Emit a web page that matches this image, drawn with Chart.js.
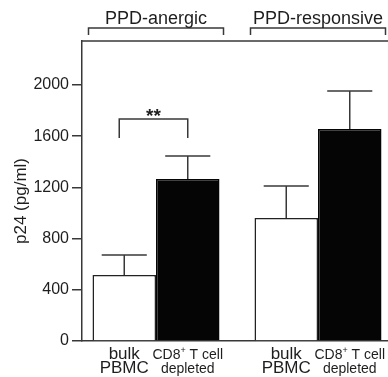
<!DOCTYPE html>
<html>
<head>
<meta charset="utf-8">
<script src="https://cdn.jsdelivr.net/npm/chart.js@4/dist/chart.umd.min.js"></script>
<style>
  html, body { margin: 0; padding: 0; background: #fff; }
  #wrap { width: 388px; height: 377px; }
</style>
</head>
<body>
<div id="wrap"><canvas id="myChart" width="388" height="377"></canvas></div>
<script>
// values
const groups = ['PPD-anergic', 'PPD-responsive'];
const condLines = [['bulk', 'PBMC'], ['CD8+ T cell', 'depleted']];
const bulkPBMC = [516, 961];
const bulkSEM = [156, 250];
const cd8Depleted = [1266, 1656];
const cd8SEM = [179, 297];
const yTicks = [0, 400, 800, 1200, 1600, 2000];
const yMax = 2344;
const sigLabel = '**';
const sigLevel = 1734; // top of significance bracket
const sigFoot = 1586;  // ends of significance bracket

const FONT = '"Liberation Sans", Arial, sans-serif';
const INK = '#1e1e1e';
const LINE = '#383838';

function line(ctx, x1, y1, x2, y2) {
  ctx.beginPath();
  ctx.moveTo(x1, y1);
  ctx.lineTo(x2, y2);
  ctx.stroke();
}

function drawSup(ctx, text, cx, by, size) {
  if (!text.includes('+')) {
    ctx.font = size + 'px ' + FONT;
    ctx.textAlign = 'center';
    ctx.fillText(text, cx, by);
    return;
  }
  const parts = text.split('+');
  const sup = Math.round(size * 0.65);
  ctx.textAlign = 'left';
  ctx.font = size + 'px ' + FONT;
  const w1 = ctx.measureText(parts[0]).width;
  const w3 = ctx.measureText(parts[1]).width;
  ctx.font = sup + 'px ' + FONT;
  const w2 = ctx.measureText('+').width;
  let x = cx - (w1 + w2 + w3) / 2;
  ctx.font = size + 'px ' + FONT;
  ctx.fillText(parts[0], x, by);
  ctx.font = sup + 'px ' + FONT;
  ctx.fillText('+', x + w1, by - size * 0.4);
  ctx.font = size + 'px ' + FONT;
  ctx.fillText(parts[1], x + w1 + w2, by);
}

const extras = {
  id: 'extras',
  afterDatasetsDraw(chart) {
    const ctx = chart.ctx;
    const y = chart.scales.y;
    const area = chart.chartArea;
    const m0 = chart.getDatasetMeta(0);
    const m1 = chart.getDatasetMeta(1);
    ctx.save();
    ctx.strokeStyle = LINE;
    ctx.fillStyle = INK;
    ctx.lineWidth = 1.5;

    // frame line on top
    line(ctx, area.left, area.top, area.right, area.top);

    // error bars (upper only)
    [[m0, bulkPBMC, bulkSEM], [m1, cd8Depleted, cd8SEM]].forEach(([meta, vals, errs]) => {
      meta.data.forEach((bar, i) => {
        const yTop = y.getPixelForValue(vals[i] + errs[i]);
        const half = bar.width * 0.355;
        line(ctx, bar.x, bar.y, bar.x, yTop);
        line(ctx, bar.x - half, yTop, bar.x + half, yTop);
      });
    });

    // significance bracket
    const sl = m0.data[0].x - 5;
    const sr = m1.data[0].x;
    const sy = y.getPixelForValue(sigLevel);
    const sf = y.getPixelForValue(sigFoot);
    ctx.beginPath();
    ctx.moveTo(sl, sf);
    ctx.lineTo(sl, sy);
    ctx.lineTo(sr, sy);
    ctx.lineTo(sr, sf);
    ctx.stroke();
    ctx.font = 'bold 19px ' + FONT;
    ctx.textAlign = 'center';
    ctx.textBaseline = 'alphabetic';
    ctx.fillText(sigLabel, (sl + sr) / 2, sy + 3);

    // group brackets and names
    groups.forEach((g, i) => {
      const b0 = m0.data[i], b1 = m1.data[i];
      const left = b0.x - b0.width / 2 - 4;
      const right = b1.x + b1.width / 2 + 4;
      const by = area.top - 13;
      ctx.beginPath();
      ctx.moveTo(left, by + 7);
      ctx.lineTo(left, by);
      ctx.lineTo(right, by);
      ctx.lineTo(right, by + 7);
      ctx.stroke();
      ctx.font = '18px ' + FONT;
      ctx.textAlign = 'center';
      ctx.fillText(g, (left + right) / 2, area.top - 17);
    });

    // condition labels under bars
    [m0, m1].forEach((meta, k) => {
      const size = k === 0 ? 17 : 14;
      meta.data.forEach(bar => {
        condLines[k].forEach((txt, r) => {
          drawSup(ctx, txt, bar.x, area.bottom + 18 + r * 14, size);
        });
      });
    });

    // y axis title
    ctx.save();
    ctx.translate(21, (area.top + area.bottom) / 2 + 10);
    ctx.rotate(-Math.PI / 2);
    ctx.font = '17px ' + FONT;
    ctx.textAlign = 'center';
    ctx.textBaseline = 'middle';
    ctx.fillText('p24 (pg/ml)', 0, 0);
    ctx.restore();

    ctx.restore();
  }
};

new Chart(document.getElementById('myChart'), {
  type: 'bar',
  data: {
    datasets: [
      {
        label: 'bulk PBMC',
        data: bulkPBMC.map((v, i) => ({ x: i + 1, y: v })),
        backgroundColor: '#ffffff',
        borderColor: '#222',
        borderWidth: 1.5,
        categoryPercentage: 0.784,
        barPercentage: 1
      },
      {
        label: 'CD8+ T cell depleted',
        data: cd8Depleted.map((v, i) => ({ x: i + 1, y: v })),
        backgroundColor: '#050505',
        borderColor: '#050505',
        borderWidth: 1.5,
        categoryPercentage: 0.784,
        barPercentage: 1
      }
    ]
  },
  options: {
    responsive: false,
    animation: false,
    layout: { padding: { top: 41, left: 0, right: 0, bottom: 0 } },
    plugins: {
      legend: { display: false },
      tooltip: { enabled: false }
    },
    scales: {
      x: {
        type: 'linear',
        offset: false,
        min: 0.5432,
        max: 2.4321,
        afterBuildTicks: s => { s.ticks = groups.map((g, i) => ({ value: i + 1 })); },
        afterFit: s => { s.height = 36; },
        grid: { display: false, offset: false },
        ticks: { display: false },
        border: { display: true, color: LINE, width: 1.5 }
      },
      y: {
        min: 0,
        max: yMax,
        afterBuildTicks: s => { s.ticks = yTicks.map(v => ({ value: v })); },
        afterFit: s => { s.width = 82; },
        grid: { drawOnChartArea: false, drawTicks: true, tickLength: 10, color: LINE, lineWidth: 1.5 },
        border: { color: LINE, width: 1.5 },
        ticks: {
          padding: 3,
          color: INK,
          font: { family: FONT, size: 16 },
          callback: v => String(v)
        }
      }
    }
  },
  plugins: [extras]
});
</script>
</body>
</html>
